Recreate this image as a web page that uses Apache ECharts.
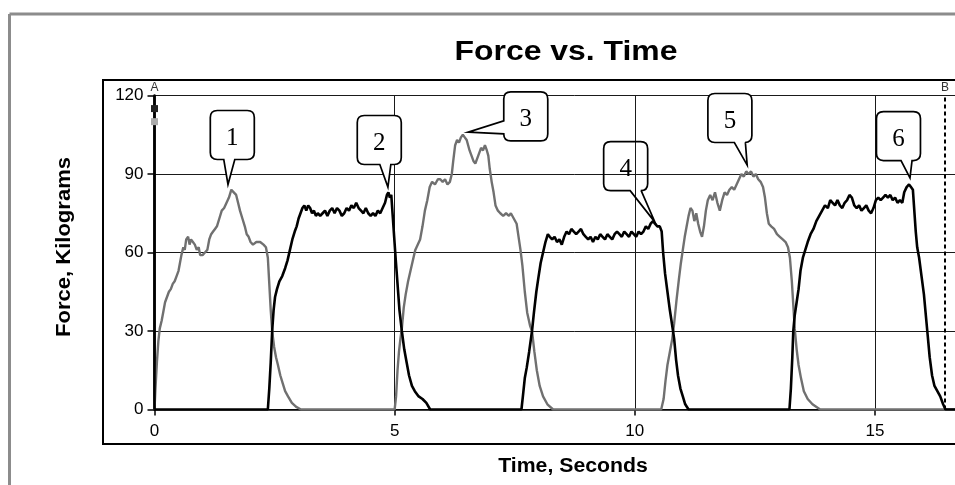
<!DOCTYPE html>
<html>
<head>
<meta charset="utf-8">
<script src="https://cdn.jsdelivr.net/npm/echarts@6/dist/echarts.min.js"></script>
<style>
html,body{margin:0;padding:0;overflow:hidden;background:#fff;}
#chart{width:1040px;height:485px;}
</style>
</head>
<body>
<div id="chart"></div>
<script>
// ---- Data ----
const titleText = 'Force vs. Time';
const xAxisName = 'Time, Seconds';
const yAxisName = 'Force, Kilograms';
const xTicks = [0, 5, 10, 15];
const yTicks = [0, 30, 60, 90, 120];

// Gray channel (pulls 1, 3, 5)
const timeGray = [0.00,0.02,0.05,0.08,0.11,0.15,0.18,0.22,0.26,0.30,0.34,0.38,0.42,0.46,0.50,0.53,0.56,0.60,0.63,0.66,0.70,0.73,0.76,0.80,0.84,0.88,0.92,0.95,1.00,1.05,1.10,1.14,1.18,1.22,1.26,1.30,1.35,1.40,1.45,1.50,1.55,1.60,1.65,1.70,1.74,1.78,1.83,1.88,1.92,1.96,2.00,2.05,2.12,2.20,2.27,2.32,2.36,2.39,2.42,2.45,2.49,2.53,2.57,2.62,2.67,2.72,2.78,2.86,2.95,3.05,
 5.00,5.03,5.06,5.09,5.12,5.15,5.19,5.23,5.28,5.33,5.38,5.43,5.48,5.53,5.58,5.63,5.68,5.73,5.78,5.84,5.90,5.95,6.00,6.05,6.10,6.15,6.19,6.22,6.26,6.30,6.34,6.38,6.42,6.46,6.50,6.53,6.56,6.60,6.64,6.68,6.72,6.76,6.80,6.84,6.88,6.92,6.95,6.98,7.02,7.06,7.10,7.15,7.20,7.26,7.32,7.38,7.42,7.48,7.54,7.58,7.62,7.66,7.71,7.76,7.82,7.86,7.91,7.96,8.02,8.09,8.18,8.30,
 10.55,10.60,10.64,10.68,10.73,10.78,10.82,10.87,10.92,10.96,11.00,11.04,11.08,11.12,11.16,11.20,11.24,11.28,11.32,11.36,11.40,11.44,11.48,11.52,11.57,11.62,11.67,11.72,11.77,11.82,11.87,11.92,11.97,12.02,12.07,12.12,12.17,12.22,12.27,12.32,12.37,12.42,12.47,12.52,12.57,12.62,12.67,12.71,12.75,12.79,12.84,12.90,12.96,13.02,13.08,13.14,13.19,13.23,13.27,13.30,13.33,13.37,13.41,13.46,13.52,13.60,13.70,13.86,17.5];
const forceGray = [0,8,18,26,31,34,37,41,43,45,46,48,49,51,53,56,59,62,61,65,66,63,65,64,63,61,62,59,59,60,61,65,67,68,69,70,73,76,77,79,81,84,83,82,79,76,73,70,67,66,64,63,64,64,63,62,58,48,38,30,24,20,17,13,10,7,5,2.5,1,0,
 0,5,15,22,27,31,39,44,49,53,57,61,63,65,70,76,80,85,87,86,88,88,87,88,86,87,90,95,101,103,102,104,105,104,103,101,99,97,95,94,96,98,100,99,101,99,97,92,87,83,78,76,75,74,75,74,75,73,71,66,61,55,45,37,32,30,22,15,9,5,2,0,
 0,4,11,17,22,27,33,42,50,56,61,66,70,74,77,76,72,75,71,68,66,70,76,80,82,80,83,79,76,80,83,82,84,85,84,86,88,90,89,91,90,91,89,90,88,87,85,81,75,71,70,69,67,66,65,64,62,58,49,40,31,23,17,12,7,4,2,0,0];

// Black channel (pulls 2, 4, 6)
const timeBlack = [0,2.36,2.39,2.42,2.45,2.48,2.51,2.55,2.60,2.66,2.72,2.77,2.82,2.87,2.92,2.96,3.00,3.04,3.08,3.12,3.16,3.20,3.24,3.28,3.32,3.36,3.40,3.45,3.50,3.55,3.60,3.65,3.70,3.75,3.80,3.85,3.90,3.95,4.00,4.05,4.10,4.15,4.20,4.25,4.30,4.35,4.40,4.45,4.50,4.55,4.60,4.65,4.70,4.75,4.80,4.84,4.87,4.90,4.93,4.96,4.99,5.02,5.06,5.10,5.15,5.20,5.25,5.30,5.36,5.42,5.50,5.58,5.66,5.74,
 7.64,7.67,7.71,7.75,7.80,7.86,7.90,7.95,7.99,8.04,8.09,8.14,8.19,8.23,8.28,8.33,8.38,8.43,8.48,8.53,8.58,8.63,8.68,8.73,8.78,8.83,8.88,8.93,8.98,9.03,9.08,9.13,9.18,9.23,9.28,9.33,9.38,9.43,9.48,9.53,9.58,9.63,9.68,9.73,9.78,9.83,9.88,9.93,9.98,10.03,10.08,10.13,10.18,10.23,10.28,10.33,10.38,10.42,10.47,10.52,10.56,10.59,10.63,10.68,10.73,10.78,10.82,10.86,10.90,10.95,11.00,11.05,11.12,
 13.22,13.25,13.28,13.30,13.33,13.37,13.41,13.45,13.50,13.55,13.60,13.66,13.72,13.78,13.84,13.90,13.96,14.02,14.07,14.12,14.17,14.22,14.27,14.32,14.37,14.42,14.47,14.52,14.57,14.62,14.67,14.72,14.77,14.82,14.87,14.92,14.97,15.02,15.07,15.12,15.17,15.22,15.27,15.32,15.37,15.42,15.47,15.52,15.57,15.61,15.66,15.71,15.75,15.79,15.82,15.85,15.88,15.92,15.97,16.02,16.06,16.10,16.14,16.19,16.24,16.30,16.36,16.42,16.47,17.5];
const forceBlack = [0,0,8,18,30,38,43,46,49,51,54,57,61,65,68,70,73,75,77,78,76,78,77,75,76,74,75,74,75,76,74,76,77,75,77,76,74,75,77,76,78,77,79,77,76,75,77,75,74,75,74,76,75,77,79,82,83,81,82,74,66,58,48,38,30,23,18,13,9,7,5,4,2.5,0,
 0,5,12,16,22,30,37,45,50,56,60,64,67,66,65,66,64,65,63,66,68,67,69,68,67,68,69,67,66,65,66,64,66,65,67,66,65,67,66,65,67,68,67,66,68,67,66,68,67,66,68,67,68,70,69,71,72,71,70,70,68,60,52,45,38,32,27,19,13,8,5,2,0,
 0,8,20,30,36,41,46,53,58,61,64,67,69,72,74,76,78,77,80,79,78,80,78,77,79,80,82,81,78,77,78,76,77,78,76,75,77,80,81,80,81,82,81,82,80,81,79,80,79,83,85,86,85,84,76,68,62,58,51,44,36,28,20,13,9,7,5,2,0,0];

// Numbered callouts: tip points at the peaks, box centres (data units)
const calloutLabels = ['1','2','3','4','5','6'];
const calloutTipTime = [1.53, 4.86, 6.53, 10.42, 12.34, 15.73];
const calloutTipForce = [86, 85, 106, 71.6, 93.4, 88.5];
const calloutBoxTime = [1.62, 4.68, 7.73, 9.81, 11.98, 15.49];
const calloutBoxForce = [104.9, 103, 112, 93, 111.4, 104.5];

// Cursors A and B
const cursorA = 0;
const cursorB = 16.46;
const cursorAReadouts = [115, 110];

// ---- Build chart ----
const grayData = timeGray.map((t, i) => [t, forceGray[i]]);
const blackData = timeBlack.map((t, i) => [t, forceBlack[i]]);
const calloutData = calloutLabels.map((l, i) => [calloutBoxTime[i], calloutBoxForce[i], calloutTipTime[i], calloutTipForce[i], i]);

function clamp(v, a, b) { return Math.max(a, Math.min(b, v)); }

function renderCallout(params, api) {
  const c = api.coord([api.value(0), api.value(1)]);
  const tip = api.coord([api.value(2), api.value(3)]);
  const idx = api.value(4);
  const w = 44, h = 49, r = 7;
  const L = c[0] - w / 2, R = c[0] + w / 2, T = c[1] - h / 2, B = c[1] + h / 2;
  let d;
  if (tip[1] > B) {
    const bc = c[0] + clamp((tip[0] - c[0]) * 0.7, -10, 10);
    const b1 = bc - 5.5, b2 = bc + 5.5;
    d = `M${L + r},${T} L${R - r},${T} Q${R},${T} ${R},${T + r} L${R},${B - r} Q${R},${B} ${R - r},${B} L${b2},${B} L${tip[0]},${tip[1]} L${b1},${B} L${L + r},${B} Q${L},${B} ${L},${B - r} L${L},${T + r} Q${L},${T} ${L + r},${T} Z`;
  } else {
    const bc = c[1] + clamp((tip[1] - c[1]) * 0.7, -12, 12);
    const b1 = bc - 6.5, b2 = bc + 6.5;
    d = `M${L + r},${T} L${R - r},${T} Q${R},${T} ${R},${T + r} L${R},${B - r} Q${R},${B} ${R - r},${B} L${L + r},${B} Q${L},${B} ${L},${B - r} L${L},${b2} L${tip[0]},${tip[1]} L${L},${b1} L${L},${T + r} Q${L},${T} ${L + r},${T} Z`;
  }
  return {
    type: 'group',
    children: [
      { type: 'path', shape: { pathData: d }, style: { fill: idx === 3 ? 'rgba(255,255,255,0)' : '#fff', stroke: '#000', lineWidth: 1.7 } },
      { type: 'text', style: { text: calloutLabels[idx], x: c[0], y: c[1] + 3, align: 'center', verticalAlign: 'middle', fill: '#000', font: '25px "Liberation Serif", "Times New Roman", serif' } }
    ]
  };
}

const chart = echarts.init(document.getElementById('chart'), null, { renderer: 'canvas' });
const sansFont = '"Liberation Sans", Arial, sans-serif';

const option = {
  animation: false,
  backgroundColor: '#fff',
  grid: { left: 154.5, top: 95.5, bottom: 75.5, right: 45, containLabel: false },
  xAxis: {
    type: 'value', min: 0, max: 17.5, interval: 5,
    axisLine: { show: true, onZero: false, lineStyle: { color: '#000', width: 1.5 } },
    axisTick: { show: true, length: 6, lineStyle: { color: '#000', width: 1.5 } },
    axisLabel: { color: '#000', fontSize: 17, fontFamily: sansFont, margin: 13,
      formatter: v => (xTicks.indexOf(v) >= 0 ? String(v) : '') },
    splitLine: { show: true, lineStyle: { color: '#1a1a1a', width: 1 } }
  },
  yAxis: {
    type: 'value', min: 0, max: 120, interval: 30,
    axisLine: { show: true, lineStyle: { color: '#000', width: 2.5 } },
    axisTick: { show: true, length: 7, lineStyle: { color: '#000', width: 1.5 } },
    axisLabel: { color: '#000', fontSize: 17, fontFamily: sansFont, margin: 11,
      formatter: v => (yTicks.indexOf(v) >= 0 ? String(v) : '') },
    splitLine: { show: true, lineStyle: { color: '#1a1a1a', width: 1 } }
  },
  graphic: [
    { type: 'line', shape: { x1: 9.5, y1: 14, x2: 1040, y2: 14 }, style: { stroke: '#8c8c8c', lineWidth: 3 }, z: 100 },
    { type: 'line', shape: { x1: 9.5, y1: 14, x2: 9.5, y2: 485 }, style: { stroke: '#8c8c8c', lineWidth: 3 }, z: 100 },
    { type: 'rect', shape: { x: 103, y: 80, width: 920, height: 364 }, style: { fill: 'none', stroke: '#000', lineWidth: 2 }, z: 100 },
    { type: 'text', x: 566, y: 52, scaleX: 1.14, style: { text: titleText, font: 'bold 28px ' + sansFont, align: 'center', verticalAlign: 'middle', fill: '#000' }, z: 100 },
    { type: 'text', x: 573, y: 467, scaleX: 1.09, style: { text: xAxisName, font: 'bold 19.5px ' + sansFont, align: 'center', verticalAlign: 'middle', fill: '#000' }, z: 100 },
    { type: 'text', x: 65, y: 247, rotation: Math.PI / 2, scaleX: 1.13, style: { text: yAxisName, font: 'bold 19.5px ' + sansFont, align: 'center', verticalAlign: 'middle', fill: '#000' }, z: 100 }
  ],
  series: [
    {
      name: 'Gray channel', type: 'line', data: grayData, showSymbol: false, symbol: 'none',
      lineStyle: { color: '#707070', width: 2.4 }, z: 3,
      markLine: {
        silent: true, symbol: ['none', 'none'], animation: false,
        data: [
          { xAxis: cursorA, lineStyle: { color: '#000', width: 2.5, type: 'solid' }, label: { formatter: 'A', position: 'end', distance: 2, color: '#333', fontSize: 12, fontFamily: sansFont } },
          { xAxis: cursorB, lineStyle: { color: '#000', width: 2, type: [4, 3] }, label: { formatter: 'B', position: 'end', distance: 2, color: '#333', fontSize: 12, fontFamily: sansFont } }
        ]
      },
      markPoint: {
        silent: true, symbol: 'rect', symbolSize: 7, animation: false,
        label: { show: false },
        data: [
          { coord: [cursorA, cursorAReadouts[0]], itemStyle: { color: '#222' } },
          { coord: [cursorA, cursorAReadouts[1]], itemStyle: { color: '#aaa' } }
        ]
      }
    },
    {
      name: 'Black channel', type: 'line', data: blackData, showSymbol: false, symbol: 'none',
      lineStyle: { color: '#000', width: 2.6 }, z: 4
    },
    {
      name: 'Callouts', type: 'custom', data: calloutData, renderItem: renderCallout, clip: false, z: 10,
      encode: { x: [0, 2], y: [1, 3] }, silent: true
    }
  ]
};
chart.setOption(option);
</script>
</body>
</html>
